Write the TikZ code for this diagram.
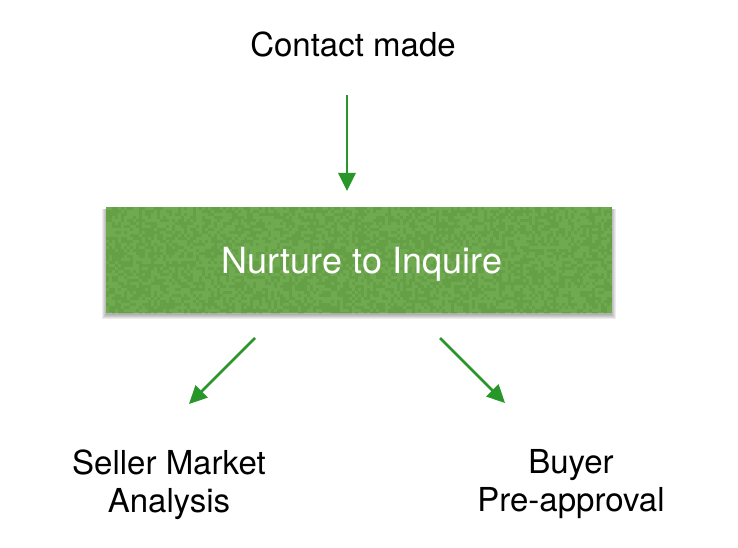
\documentclass[tikz,border=0pt]{standalone}
\usepackage{fontspec}
\setmainfont{TeX Gyre Heros}
\usetikzlibrary{arrows.meta}
\definecolor{boxgreen}{RGB}{106,167,74}
\definecolor{arrowgreen}{RGB}{40,150,40}
\tikzset{
  label/.style={font=\fontsize{33}{37.5}\selectfont, text=black, align=center, inner sep=0pt},
  greenbox/.style={fill=boxgreen, minimum width=506pt, minimum height=106pt, inner sep=0pt},
  boxlabel/.style={font=\fontsize{36}{40}\selectfont, text=white, inner sep=0pt},
  softshadow/.style={fill=black, opacity=0.07},
  flow/.style={draw=arrowgreen, line width=2.8pt, -{Triangle[length=18pt,width=17pt]}}
}
\begin{document}
\begin{tikzpicture}[x=1pt,y=-1pt]
\useasboundingbox (0,0) rectangle (738,548);
\node[label] (contact) at (353,44) {Contact made};
\foreach \d in {1,2,3,4,5}{
  \fill[softshadow] (106-\d+1,207+2) rectangle (612+\d-1,313+\d+1);
}
\node[greenbox] (box) at (359,260) {};
\begin{scope}
  \clip (box.south west) rectangle (box.north east);
  \pgfmathsetseed{7}
  \foreach \i in {0,...,168}{
    \foreach \j in {0,...,35}{
      \pgfmathsetmacro{\r}{rnd}
      \ifdim\r pt<0.5pt
        \fill[black, opacity=0.045] (106+3*\i,207+3*\j) rectangle ++(3,3);
      \else
        \fill[white, opacity=0.04] (106+3*\i,207+3*\j) rectangle ++(3,3);
      \fi
    }
  }
\end{scope}
\node[boxlabel] (boxtext) at (362,264) {Nurture to Inquire};
\node[label] (seller) at (169,485) {Seller Market\\Analysis};
\node[label] (buyer) at (571,484) {Buyer\\Pre-approval};
\coordinate (t0) at (347,95);
\coordinate (t1) at (347,191);
\coordinate (l0) at (255,338);
\coordinate (l1) at (189,404);
\coordinate (r0) at (440,338);
\coordinate (r1) at (505,403);
\draw[flow] (t0) -- (t1);
\draw[flow] (l0) -- (l1);
\draw[flow] (r0) -- (r1);
\end{tikzpicture}
\end{document}
